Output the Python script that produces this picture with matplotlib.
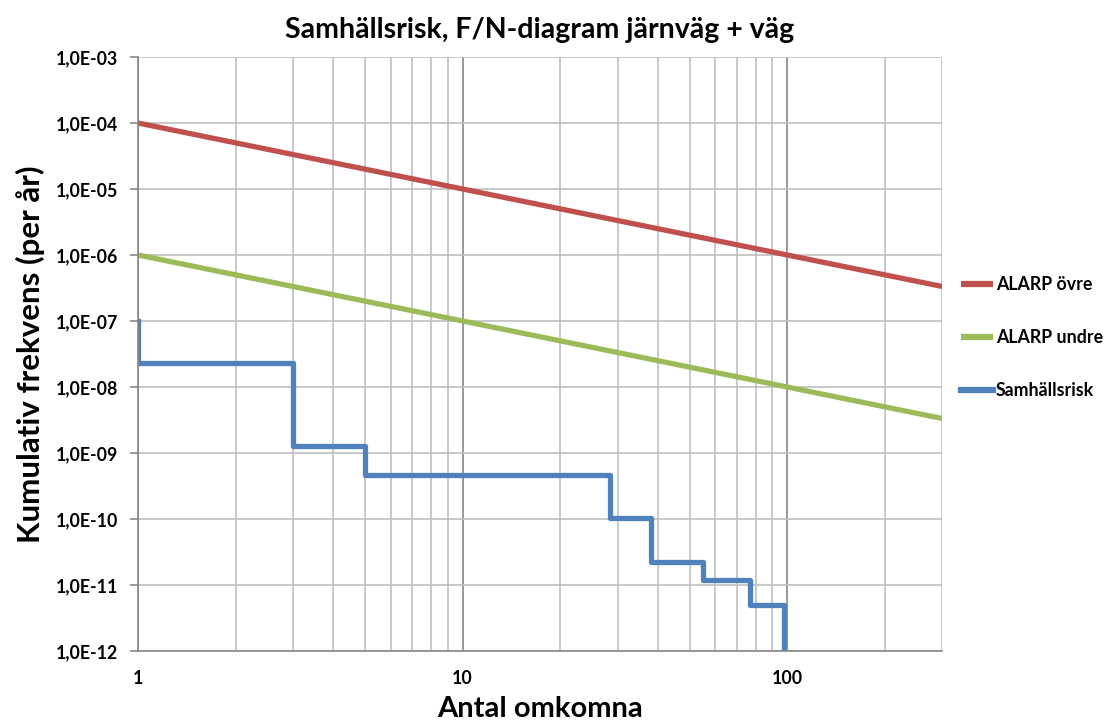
import math
import matplotlib
matplotlib.use("Agg")
import matplotlib.pyplot as plt
from matplotlib.ticker import FixedLocator, FuncFormatter, NullFormatter

plt.rcParams['font.family'] = ['Lato', 'DejaVu Sans']

# ALARP criteria lines
alarp_n = [1, 300]
alarp_upper = [1e-4, 1e-4 / 300]
alarp_lower = [1e-6, 1e-6 / 300]

# societal risk step curve
risk_n = [1, 1, 3, 5, 28.5, 38, 55, 77, 98]
risk_f = [1e-7, 2.33e-8, 1.26e-9, 4.6e-10, 1.05e-10, 2.25e-11, 1.2e-11, 5e-12, 1e-13]

red = '#C0504D'
green = '#9BBB59'
blue = '#4F81BD'

fig = plt.figure(figsize=(11.11, 7.26), dpi=100)
ax = fig.add_axes([0.1242, 0.1033, 0.7238, 0.8182])

ax.plot(alarp_n, alarp_upper, color=red, lw=3.8, label='ALARP övre', solid_capstyle='butt')
ax.plot(alarp_n, alarp_lower, color=green, lw=3.8, label='ALARP undre', solid_capstyle='butt')
ax.plot(risk_n, risk_f, color=blue, lw=3.8, label='Samhällsrisk', drawstyle='steps-post')

ax.set_xscale('log')
ax.set_yscale('log')
ax.set_xlim(1, 300)
ax.set_ylim(1e-12, 1e-3)

ax.xaxis.set_major_locator(FixedLocator([1, 10, 100]))
minor_x = [m * d for d in (1, 10, 100) for m in range(2, 10) if m * d <= 300]
ax.xaxis.set_minor_locator(FixedLocator(minor_x))
ax.xaxis.set_minor_formatter(NullFormatter())
ax.xaxis.set_major_formatter(FuncFormatter(lambda v, p: '%d' % v))

ax.yaxis.set_major_locator(FixedLocator([10.0 ** e for e in range(-12, -2)]))
ax.yaxis.set_minor_locator(FixedLocator([]))
ax.yaxis.set_major_formatter(FuncFormatter(lambda v, p: '1,0E-%02d' % round(-math.log10(v))))

ax.grid(True, which='minor', axis='x', color='#BFBFBF', lw=1.2)
ax.grid(True, which='major', axis='x', color='#868686', lw=1.2)
ax.grid(True, which='major', axis='y', color='#BFBFBF', lw=1.2)
ax.set_axisbelow(True)

for s in ('top', 'right'):
    ax.spines[s].set_visible(False)
ax.spines['left'].set_color('#868686')
ax.spines['bottom'].set_color('#868686')
ax.spines['left'].set_linewidth(1.2)
ax.spines['bottom'].set_linewidth(1.2)

ax.tick_params(axis='y', which='major', length=6, color='#868686', width=1.2, pad=8,
               labelsize=12.8)
ax.tick_params(axis='x', which='both', length=0, pad=14, labelsize=12.8)
for lbl in ax.get_xticklabels() + ax.get_yticklabels():
    lbl.set_fontweight('bold')

ax.set_title('Samhällsrisk, F/N-diagram järnväg + väg', fontsize=20.5, fontweight='bold', pad=14)
ax.set_xlabel('Antal omkomna', fontsize=21, fontweight='bold', labelpad=6)
ax.set_ylabel('Kumulativ frekvens (per år)', fontsize=22.5, fontweight='bold', labelpad=8)

leg = fig.legend(loc='upper left', bbox_to_anchor=(0.851, 0.642), frameon=False,
                 handlelength=1.8, handletextpad=0.15, labelspacing=2.02,
                 prop={'size': 12.8, 'weight': 'bold'})
for h in leg.get_lines():
    h.set_linewidth(4.5)

fig.savefig('out.png', dpi=100)
